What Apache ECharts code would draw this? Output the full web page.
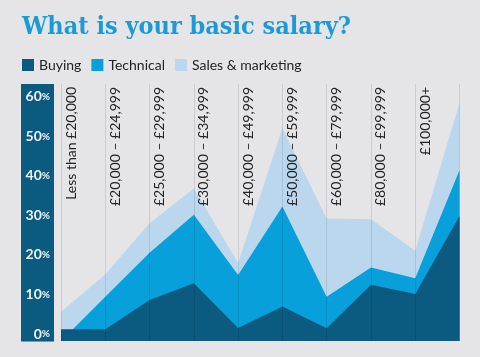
<!DOCTYPE html>
<html><head><meta charset="utf-8">
<script src="https://cdn.jsdelivr.net/npm/echarts@6/dist/echarts.min.js"></script>
<style>html,body{margin:0;padding:0;background:#e5e5e7;}#c{width:480px;height:357px;}</style>
</head><body><div id="c"></div>
<script>
const categories = ['Less than £20,000','£20,000 – £24,999','£25,000 – £29,999','£30,000 – £34,999','£40,000 – £49,999','£50,000 – £59,999','£60,000 – £79,999','£80,000 – £99,999','£100,000+',''];
const buying = [3, 3, 10.4, 14.6, 3.3, 8.7, 3.2, 14.2, 11.9, 31.6];
const technical = [0, 11.2, 22.3, 31.9, 16.7, 34, 11.2, 18.6, 15.9, 43.2];
const sales = [7.4, 16.8, 29.8, 38.6, 19.7, 53.8, 31, 30.8, 22.8, 60.2];
const yTicks = [0, 10, 20, 30, 40, 50, 60];
const seriesNames = ['Buying', 'Technical', 'Sales & marketing'];
const colors = {dark: '#0b5a80', mid: '#08a0da', light: '#bad7ee'};

const chart = echarts.init(document.getElementById('c'), null, {renderer: 'canvas'});
function area(name, data, color, z) {
  return {name, type: 'line', data, symbol: 'none', z,
    lineStyle: {width: 0}, itemStyle: {color},
    areaStyle: {color, opacity: 1}, silent: true};
}
chart.setOption({
  backgroundColor: '#e5e5e7',
  animation: false,
  title: {text: 'What is your basic salary?', left: 17, top: 10,
    textStyle: {color: '#1b9ad6', fontSize: 25, fontWeight: 'bold', fontFamily: "'DejaVu Serif Condensed', 'DejaVu Serif', serif"}},
  legend: {data: seriesNames, left: 17, top: 53, icon: 'rect', itemWidth: 12, itemHeight: 12, itemGap: 10,
    textStyle: {fontSize: 14, color: '#222', fontFamily: 'Lato'}},
  graphic: [{type: 'rect', z: -1, shape: {x: 21, y: 84, width: 33, height: 257.5}, style: {fill: colors.dark}}],
  grid: {left: 61, right: 20.5, top: 84, bottom: 16},
  xAxis: {type: 'category', data: categories, boundaryGap: false, position: 'top', z: 5,
    axisLine: {show: false}, axisTick: {show: false},
    axisLabel: {inside: true, rotate: 90, verticalAlign: 'top', margin: 3, interval: 0,
      fontSize: 14, color: '#222', fontFamily: 'Lato', padding: [3, 0, 0, 0]},
    splitLine: {show: true, lineStyle: {color: 'rgba(0,0,0,0.1)', width: 1}}},
  yAxis: {type: 'value', min: 0, max: 65, interval: 10,
    axisLine: {show: false}, axisTick: {show: false}, splitLine: {show: false},
    axisLabel: {margin: 11, verticalAlign: 'bottom', showMaxLabel: false,
      formatter: v => yTicks.includes(v) ? '{n|' + v + '}{p|%}' : '',
      rich: {n: {fontSize: 14, fontWeight: 'bold', color: '#eef3f7', fontFamily: 'Lato'},
             p: {fontSize: 10, fontWeight: 'bold', color: '#eef3f7', fontFamily: 'Lato'}}}},
  series: [
    area(seriesNames[2], sales, colors.light, 1),
    area(seriesNames[1], technical, colors.mid, 2),
    area(seriesNames[0], buying, colors.dark, 3)
  ]
});
</script></body></html>
